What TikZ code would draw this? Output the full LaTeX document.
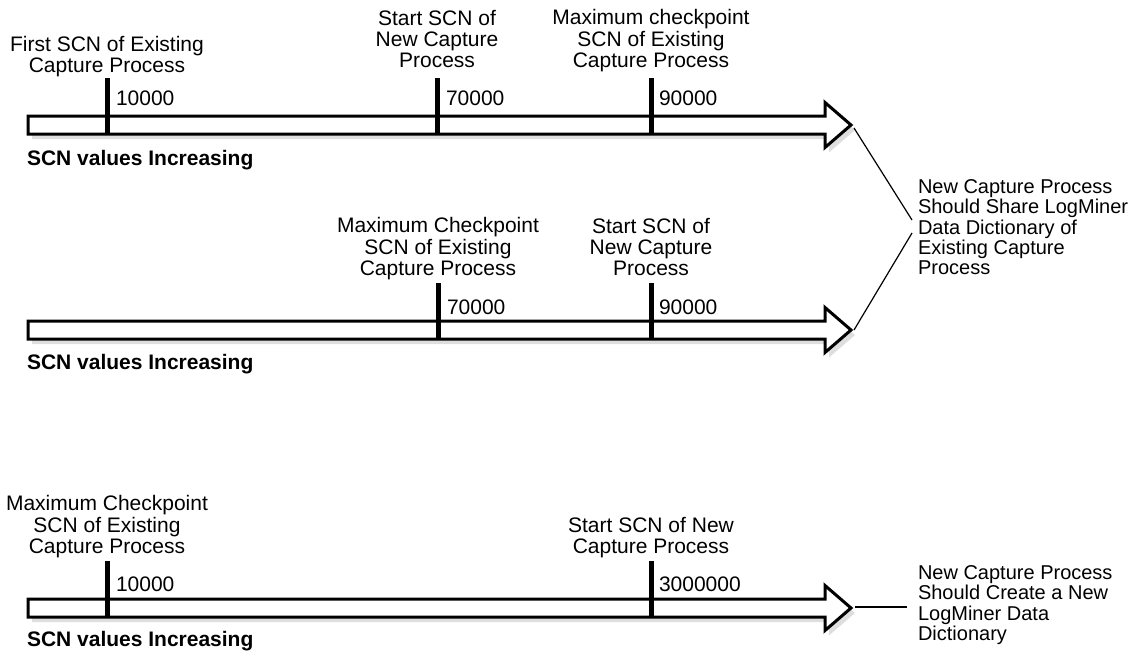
\documentclass[tikz,border=0pt]{standalone}
\usepackage{fontspec}
\setmainfont{Liberation Sans}
\begin{document}
\begin{tikzpicture}[x=0.75pt,y=-0.75pt,
  every node/.style={inner sep=0pt,outer sep=0pt,font=\fontsize{15.75}{15.2}\selectfont},
  lbl/.style={anchor=base},
  num/.style={anchor=base west},
  sideT/.style={anchor=base west,font=\fontsize{15}{15.2}\selectfont},
  axislbl/.style={anchor=base west,font=\fontsize{15.75}{15.2}\selectfont\bfseries},
  tickline/.style={line width=3.75pt},
  conn/.style={line width=0.9pt},
  pics/scnarrow/.style={code={
    \fill[black!13] (4,-4) -- (801,-4) -- (801,-17.5) -- (827,5) -- (801,27.5) -- (801,14) -- (4,14) -- cycle;
    \draw[line width=2.25pt,fill=white,miter limit=10] (0,-9) -- (797,-9) -- (797,-22.5) -- (823,0) -- (797,22.5) -- (797,9) -- (0,9) -- cycle;
  }}]
\newcommand{\ctab}[1]{\begin{tabular}[b]{@{}c@{}}#1\end{tabular}}
\newcommand{\ltab}[1]{\begin{tabular}[t]{@{}l@{}}#1\end{tabular}}
\useasboundingbox (0,0) rectangle (1134,650);

% ---------- arrow 1 ----------
\pic at (28,125) {scnarrow};
\draw[tickline] (107,78) -- (107,134);
\draw[tickline] (437,78) -- (437,134);
\draw[tickline] (651,78) -- (651,134);
\node[lbl] (a1l1) at (107,72) {\ctab{First SCN of Existing\\Capture Process}};
\node[lbl] (a1l2) at (437,67) {\ctab{Start SCN of\\New Capture\\Process}};
\node[lbl] (a1l3) at (651,67) {\ctab{Maximum checkpoint\\SCN of Existing\\Capture Process}};
\node[num] (a1n1) at (116,105) {10000};
\node[num] (a1n2) at (446,105) {70000};
\node[num] (a1n3) at (659,105) {90000};
\node[axislbl] (a1ax) at (27,165) {SCN values Increasing};
\coordinate (tip1) at (854,128);

% ---------- arrow 2 ----------
\pic at (28,330) {scnarrow};
\draw[tickline] (438,283) -- (438,339);
\draw[tickline] (651,283) -- (651,339);
\node[lbl] (a2l1) at (438,275) {\ctab{Maximum Checkpoint\\SCN of Existing\\Capture Process}};
\node[lbl] (a2l2) at (651,275) {\ctab{Start SCN of\\New Capture\\Process}};
\node[num] (a2n1) at (447,314) {70000};
\node[num] (a2n2) at (659,314) {90000};
\node[axislbl] (a2ax) at (27,369) {SCN values Increasing};
\coordinate (tip2) at (854,330);

% ---------- arrow 3 ----------
\pic at (28,608) {scnarrow};
\draw[tickline] (107,561) -- (107,617);
\draw[tickline] (651,561) -- (651,617);
\node[lbl] (a3l1) at (107,553) {\ctab{Maximum Checkpoint\\SCN of Existing\\Capture Process}};
\node[lbl] (a3l2) at (651,553) {\ctab{Start SCN of New\\Capture Process}};
\node[num] (a3n1) at (116,591) {10000};
\node[num] (a3n2) at (659,591) {3000000};
\node[axislbl] (a3ax) at (27,646) {SCN values Increasing};
\coordinate (tip3) at (855,607);

% ---------- outcome texts ----------
\node[sideT] (share) at (918,193) {\ltab{New Capture Process\\Should Share LogMiner\\Data Dictionary of\\Existing Capture\\Process}};
\node[sideT] (create) at (918,579) {\ltab{New Capture Process\\Should Create a New\\LogMiner Data\\Dictionary}};
\coordinate (j1) at (912,220);
\coordinate (j2) at (912,233);
\coordinate (j3) at (907,607);

\draw[conn] (tip1) -- (j1);
\draw[conn] (tip2) -- (j2);
\draw[conn] (tip3) -- (j3);
\end{tikzpicture}
\end{document}
